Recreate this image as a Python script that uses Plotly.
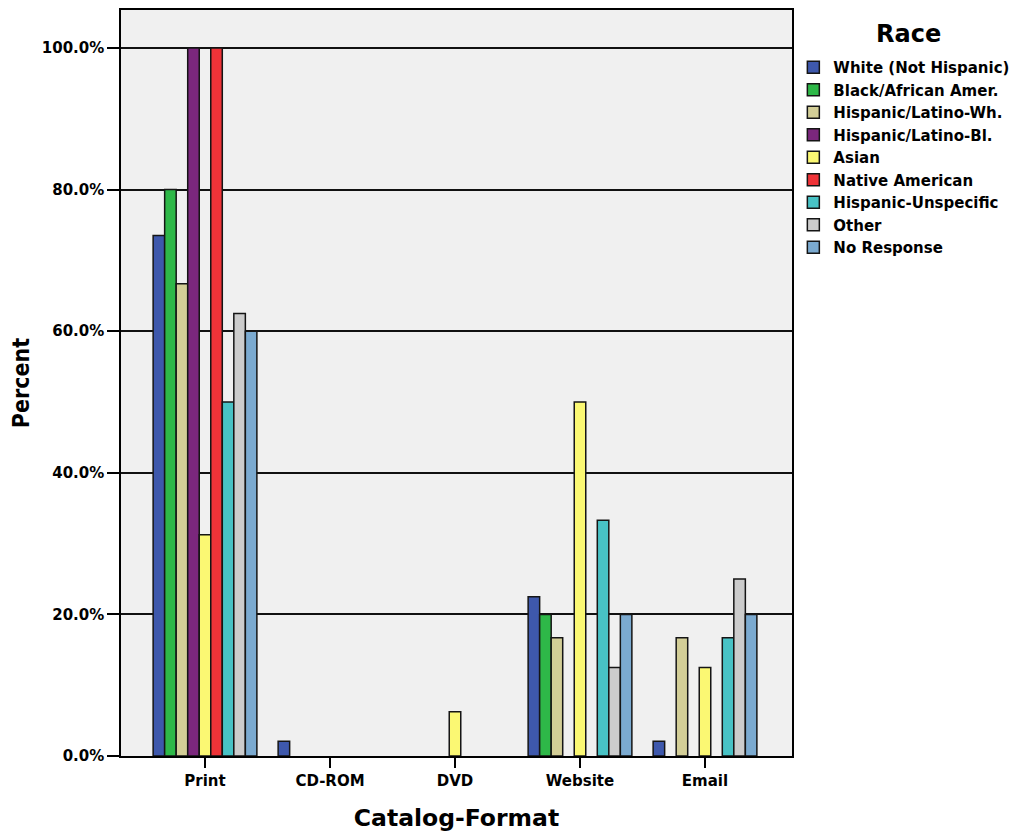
import plotly.graph_objects as go

categories = ["Print", "CD-ROM", "DVD", "Website", "Email"]
series_names = ["White (Not Hispanic)", "Black/African Amer.", "Hispanic/Latino-Wh.",
                "Hispanic/Latino-Bl.", "Asian", "Native American",
                "Hispanic-Unspecific", "Other", "No Response"]
white = [73.5, 2.1, None, 22.5, 2.1]
black = [80.0, None, None, 20.0, None]
hisp_wh = [66.7, None, None, 16.7, 16.7]
hisp_bl = [100.0, None, None, None, None]
asian = [31.25, None, 6.25, 50.0, 12.5]
native = [100.0, None, None, None, None]
hisp_un = [50.0, None, None, 33.3, 16.7]
other = [62.5, None, None, 12.5, 25.0]
no_resp = [60.0, None, None, 20.0, 20.0]
series_values = [white, black, hisp_wh, hisp_bl, asian, native, hisp_un, other, no_resp]
colors = ["#3E58AC", "#2EB848", "#D3CE97", "#7B277D", "#FBF873", "#EF3338",
          "#48C2C5", "#CCCCCC", "#7BAAD0"]
y_tick_vals = [0, 20, 40, 60, 80, 100]
y_tick_text = ["0.0%", "20.0%", "40.0%", "60.0%", "80.0%", "100.0%"]
legend_title = "Race"

FONT = "DejaVu Sans, Liberation Sans, sans-serif"
NARROW = "DejaVu Sans Condensed, DejaVu Sans, sans-serif"

fig = go.Figure()
for name, vals, col in zip(series_names, series_values, colors):
    fig.add_trace(go.Bar(
        x=categories, y=vals, name=name,
        marker=dict(color=col, line=dict(color="#151515", width=1.5)),
    ))

fig.add_annotation(
    text=legend_title, xref="paper", yref="paper",
    x=1.1729, y=0.968, xanchor="center", yanchor="middle",
    showarrow=False, font=dict(size=24, family=FONT, weight="bold", color="black"),
)

fig.update_layout(
    width=1013, height=832,
    barmode="group", bargap=0.17, bargroupgap=0,
    paper_bgcolor="white", plot_bgcolor="#F0F0F0",
    margin=dict(l=113, r=229, t=0, b=84),
    font=dict(family=FONT, color="black"),
    legend=dict(
        x=1.002, y=0.945, xanchor="left", yanchor="top",
        bgcolor="rgba(0,0,0,0)",
        font=dict(size=15, family=FONT, weight="bold"),
        tracegroupgap=0, itemwidth=30,
    ),
    xaxis=dict(
        type="category", range=[-0.672, 4.696],
        showline=True, linecolor="black", linewidth=1.5, mirror=True,
        ticks="outside", ticklen=10, tickcolor="black", tickwidth=1.5,
        tickfont=dict(size=15, family=FONT, weight="bold"),
        title=dict(text="Catalog-Format", standoff=21,
                   font=dict(size=23.5, family=FONT, weight="bold")),
        showgrid=False,
    ),
    yaxis=dict(
        range=[0, 105.35], tickvals=y_tick_vals, ticktext=y_tick_text,
        showline=True, linecolor="black", linewidth=1.5, mirror=True,
        ticks="outside", ticklen=12, tickcolor="black", tickwidth=1.5,
        tickfont=dict(size=15, family=FONT, weight="bold"),
        showgrid=True, gridcolor="#111111", gridwidth=1.5,
        zeroline=False,
        title=dict(text="Percent", standoff=14,
                   font=dict(size=23, family=NARROW, weight="bold")),
    ),
)

fig.write_html("out.html")
